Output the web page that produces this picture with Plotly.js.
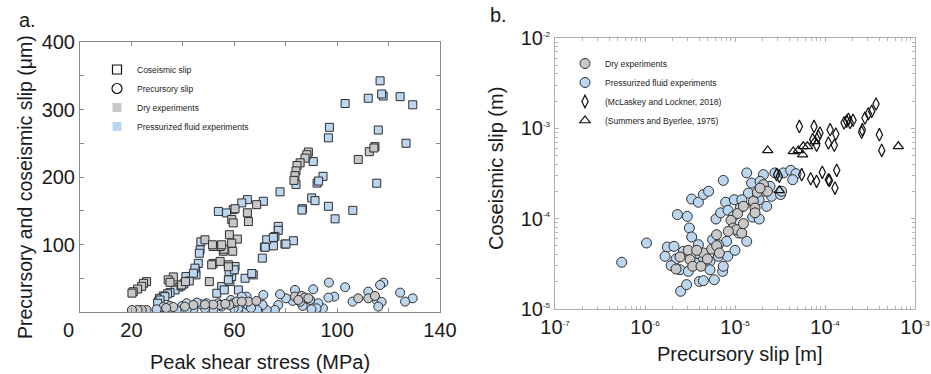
<!DOCTYPE html>
<html><head><meta charset="utf-8">
<script src="https://cdn.plot.ly/plotly-3.0.1.min.js"></script>
<style>html,body{margin:0;padding:0;background:#fff}#chart{width:931px;height:374px}</style>
</head><body><div id="chart"></div>
<script>
// ---------- Panel a: slip vs peak shear stress ----------
const dryCoseismicStress = [88.8,88.2,87.5,85.6,84.4,84.0,83.6,83.2,108.2,112.5,114.7,114.3,60.3,65.1,65.5,68.7,59.0,59.6,58.1,61.2,59.4,57.7,55.7,56.0,54.5,51.8,51.8,51.2,54.5,50.3,48.6,36.3,34.3,35.0,39.5,41.0,25.9,24.7,24.0,22.4,20.7,20.2,59.0,57.7,51.5,55.1];
const dryCoseismicSlip   = [237,233,228,221,217,209,202,195,226,237.5,245,243,153,147,134,159,137,132,114.5,108,90,70,90,93,97,97,72,70,75,45,107,52,47.6,44,40,45,45,42.5,38,34,30,28,102,67,99.6,99.6];

const fluidCoseismicStress = [116.7,103.1,112.1,117.9,117.3,124.5,129.4,97.0,96.6,116.0,126.8,115.4,90.7,94.5,92.2,92.8,84.0,90.1,91.4,86.5,86.3,96.6,99.2,106.1,77.8,71.3,65.1,77.1,77.1,83.0,79.7,75.2,75.8,72.6,71.7,70.9,62.9,59.6,57.0,53.8,47.0,46.7,46.4,46.0,45.0,45.1,41.2,42.5,40.4,38.5,37.0,35.0,34.0,32.4,30.9,30.5,55.1,53.2,58.3,59.0,59.6,60.3,61.6,64.2,67.4,66.8,58.0,75.2,80.1,72.0,44.7,44.1,39.3,33.0,31.1,30.2,56.1,57.7,60.0];
const fluidCoseismicSlip   = [342.5,308.8,316.7,320,323,319,307,273.6,258,269.6,250,190.8,223,201,191,194,189,169,165,153,151,156.6,138,150.6,178,164,166.5,126.9,121,105.6,100.7,98,112,107,96.2,79.8,161.6,151.7,146.8,149,104,92,87,72,61,55,52.5,46,41.6,37,32.7,28.7,27,23.8,20.3,15.4,37.7,27.8,45,52.5,62.5,67.4,32.7,50,55,57,60,110.5,100.7,96,65,57.5,38.7,22.8,17.8,13,32.7,47.6,62.5];

const dryPrecursoryStress = [108.2,112.1,114.7,83.6,86.2,87.5,88.8,84.9,65.5,68.6,59.6,60.9,58.1,54.5,51.8,48.6,44.1,40.8,36.3,25.9,24.0,22.4,20.2,62.9,56.5,33.5];
const dryPrecursorySlip   = [20.3,20.3,23.8,22.8,23.8,21.4,20.3,17.8,15.4,16.4,13,15.4,10.4,10.4,11,11,10.4,8,7.4,3,3,3,3,15.4,12,6];

const fluidPrecursoryStress = [96.8,103.1,118.0,116.7,124.5,129.4,126.4,112.1,115.4,117.3,116.0,106.0,98.9,96.6,94.5,92.7,92.0,90.0,90.7,89.5,86.6,85.6,83.6,82.7,80.1,77.8,77.1,75.8,72.6,71.3,71.0,68.9,64.8,65.3,61.6,59.8,64.8,62.9,58.7,55.1,51.9,48.6,46.7,44.1,41.5,39.7,37.6,35.0,33.7,31.1,32.4,41.5,45.4,49.2,53.8,29.8,66.5];
const fluidPrecursorySlip   = [43.6,36.7,43.6,40,28.7,20.3,15.4,30.2,17.8,15,8,15.4,22.8,21.4,5.5,13,5.5,4,33.7,17.8,9,15,32.7,16.4,20.3,26.3,10.4,3,3,25.3,10.4,3,3,10.4,5.5,5.5,22.8,22.8,17.8,8,4,5.5,12,4,4,9,3,9,3,3,7.4,13,14,13,13,4,6];

// ---------- Panel b: coseismic vs precursory slip (m) ----------
const fluidPre = [5.51e-7,1.04e-6,1.77e-6,1.67e-6,2.29e-6,2.95e-6,3.11e-6,3.30e-6,2.21e-6,2.45e-6,2.49e-6,2.90e-6,3.30e-6,3.92e-6,4.45e-6,5.09e-6,7.41e-6,3.92e-6,4.08e-6,4.02e-6,4.45e-6,5.89e-6,7.29e-6,6.53e-6,8.30e-6,1.0e-5,6.15e-6,6.93e-6,7.87e-6,8.36e-6,9.84e-6,1.35e-5,1.53e-5,1.41e-5,1.57e-5,1.86e-5,1.35e-5,2.07e-5,2.25e-5,2.55e-5,2.78e-5,3.44e-5,4.16e-5,4.76e-5,4.38e-5,3.21e-5,2.07e-5,5.27e-6,2.67e-6,1.95e-6,8.07e-6,5.65e-6,1.10e-5,1.14e-5,9.57e-6,2.45e-5,1.90e-5,2.10e-6,4.45e-6,6.53e-6,1.19e-5,1.60e-5,1.85e-5,3.30e-5,7.41e-6,3.60e-6,3.03e-6,5.27e-6];
const fluidCo  = [3.29e-5,5.38e-5,4.85e-5,3.83e-5,1.11e-4,1.06e-4,7.89e-5,6.27e-5,3.58e-5,2.72e-5,1.57e-5,1.86e-5,1.65e-4,1.52e-4,1.85e-4,2.01e-4,2.65e-4,5.15e-5,3.99e-5,2.02e-5,2.06e-5,2.11e-5,2.61e-5,3.83e-5,3.83e-5,4.46e-5,9.91e-5,1.16e-4,1.52e-4,1.24e-4,1.62e-4,3.21e-4,2.48e-4,1.92e-4,1.04e-4,9.91e-5,5.61e-5,3.07e-4,1.37e-4,1.77e-4,3.21e-4,3.21e-4,3.43e-4,3.15e-4,2.70e-4,1.85e-4,2.01e-4,3.37e-5,4.35e-5,3.02e-5,5.61e-5,5.86e-5,6.93e-5,1.31e-4,1.06e-4,2.28e-4,2.59e-4,4.94e-5,3.52e-5,5.15e-5,1.62e-4,1.49e-4,1.62e-4,2.01e-4,2.97e-5,3.23e-5,2.61e-5,2.72e-5];

const dryPre = [2.21e-6,2.45e-6,3.03e-6,3.16e-6,3.39e-6,4.19e-6,4.45e-6,4.93e-6,5.51e-6,6.25e-6,6.25e-6,6.70e-6,9.03e-6,9.57e-6,1.07e-5,1.04e-5,1.19e-5,1.24e-5,1.24e-5,1.60e-5,1.77e-5,2.07e-5,2.29e-5,1.67e-5,8.43e-6,1.90e-5,3.75e-6,1.67e-5];
const dryCo  = [2.77e-5,3.77e-5,4.46e-5,3.52e-5,2.97e-5,2.97e-5,4.17e-5,3.58e-5,4.61e-5,5.02e-5,6.65e-5,4.17e-5,9.59e-5,7.89e-5,1.14e-4,7.55e-5,6.93e-5,8.81e-5,1.37e-4,1.56e-4,1.96e-4,2.38e-4,2.01e-4,1.31e-4,7.24e-5,2.18e-4,4.46e-5,1.16e-4];

const mclaskeyPre = [5.19e-5,7.55e-5,1.14e-4,1.32e-4,1.63e-4,1.82e-4,1.74e-4,2.05e-4,2.55e-4,2.60e-4,2.78e-4,3.03e-4,3.30e-4,3.69e-4,4.02e-4,4.27e-4,8.43e-5,8.79e-5,8.07e-5,7.30e-5,1.09e-4,1.27e-4,5.51e-5,6.93e-5,8.07e-5,9.33e-5,1.09e-4,1.12e-4,1.29e-4,1.35e-4,3.11e-5,2.90e-5,1.90e-4];
const mclaskeyCo  = [1.05e-3,1.05e-3,9.66e-4,8.65e-4,1.15e-3,1.26e-3,1.20e-3,1.23e-3,9.04e-4,9.66e-4,1.30e-3,1.45e-3,1.54e-3,1.86e-3,8.51e-4,5.70e-4,8.15e-4,8.87e-4,6.49e-4,7.50e-4,6.89e-4,6.49e-4,3.07e-4,2.77e-4,2.59e-4,3.26e-4,2.70e-4,2.65e-4,2.18e-4,3.43e-4,2.94e-4,3.07e-4,1.16e-3];

const summersPre = [2.31e-5,4.45e-5,5.65e-5,5.74e-5,6.37e-5,7.74e-5,6.53e-4,3.11e-5,5.06e-5];
const summersCo  = [5.70e-4,5.56e-4,5.11e-4,6.32e-4,6.32e-4,7.18e-4,6.32e-4,2.06e-4,5.70e-4];

const logTickVals = [1e-7,1e-6,1e-5,1e-4,1e-3];
const logTickText = ['10<sup><span style="font-size:8px">-7</span></sup>','10<sup><span style="font-size:8px">-6</span></sup>','10<sup><span style="font-size:8px">-5</span></sup>','10<sup><span style="font-size:8px">-4</span></sup>','10<sup><span style="font-size:8px">-3</span></sup>'];
const logYTickVals = [1e-5,1e-4,1e-3,1e-2];
const logYTickText = ['10<sup><span style="font-size:8px">-5</span></sup>','10<sup><span style="font-size:8px">-4</span></sup>','10<sup><span style="font-size:8px">-3</span></sup>','10<sup><span style="font-size:8px">-2</span></sup>'];

const GRAY = 'rgb(200,200,200)';
const BLUE = 'rgb(189,214,240)';
const EDGE = 'rgb(45,45,45)';
const FONT = 'Liberation Sans, Arial, sans-serif';
const LEGFONT = 'Liberation Sans Narrow, Liberation Sans, Arial, sans-serif';
const TXT = '#1a1a1a';

const traces = [
  // panel a data
  {x: fluidCoseismicStress, y: fluidCoseismicSlip, xaxis:'x', yaxis:'y', type:'scatter', mode:'markers', showlegend:false,
   marker:{symbol:'square', size:8, color:BLUE, line:{color:EDGE, width:1}}},
  {x: dryCoseismicStress, y: dryCoseismicSlip, xaxis:'x', yaxis:'y', type:'scatter', mode:'markers', showlegend:false,
   marker:{symbol:'square', size:8, color:GRAY, line:{color:EDGE, width:1}}},
  {x: fluidPrecursoryStress, y: fluidPrecursorySlip, xaxis:'x', yaxis:'y', type:'scatter', mode:'markers', showlegend:false,
   marker:{symbol:'circle', size:9, color:BLUE, line:{color:EDGE, width:1}}},
  {x: dryPrecursoryStress, y: dryPrecursorySlip, xaxis:'x', yaxis:'y', type:'scatter', mode:'markers', showlegend:false,
   marker:{symbol:'circle', size:9, color:GRAY, line:{color:EDGE, width:1}}},
  // panel a legend entries
  {x:[null], y:[null], xaxis:'x', yaxis:'y', type:'scatter', mode:'markers', name:'Coseismic slip', legend:'legend',
   marker:{symbol:'square-open', size:9, color:'#111', line:{width:1.2}}},
  {x:[null], y:[null], xaxis:'x', yaxis:'y', type:'scatter', mode:'markers', name:'Precursory slip', legend:'legend',
   marker:{symbol:'circle-open', size:10, color:'#111', line:{width:1.2}}},
  {x:[null], y:[null], xaxis:'x', yaxis:'y', type:'scatter', mode:'markers', name:'Dry experiments', legend:'legend',
   marker:{symbol:'square', size:9, color:GRAY, line:{width:0}}},
  {x:[null], y:[null], xaxis:'x', yaxis:'y', type:'scatter', mode:'markers', name:'Pressurized fluid experiments', legend:'legend',
   marker:{symbol:'square', size:9, color:BLUE, line:{width:0}}},
  // panel b data
  {x: fluidPre, y: fluidCo, xaxis:'x2', yaxis:'y2', type:'scatter', mode:'markers', name:'Pressurized fluid experiments', legend:'legend2', legendrank:2,
   marker:{symbol:'circle', size:10, color:BLUE, line:{color:EDGE, width:1}}},
  {x: dryPre, y: dryCo, xaxis:'x2', yaxis:'y2', type:'scatter', mode:'markers', name:'Dry experiments', legend:'legend2', legendrank:1,
   marker:{symbol:'circle', size:10, color:GRAY, line:{color:EDGE, width:1}}},
  {x: mclaskeyPre, y: mclaskeyCo, xaxis:'x2', yaxis:'y2', type:'scatter', mode:'markers', name:'(McLaskey and Lockner, 2018)', legend:'legend2', legendrank:3,
   marker:{symbol:'diamond-tall-open', size:9, color:'#111', line:{width:1.2}}},
  {x: summersPre, y: summersCo, xaxis:'x2', yaxis:'y2', type:'scatter', mode:'markers', name:'(Summers and Byerlee, 1975)', legend:'legend2', legendrank:4,
   marker:{symbol:'triangle-up-open', size:9, color:'#111', line:{width:1.2}}}
];

const W = 931, H = 374;
const px = v => v / W, py = v => 1 - v / H;

const axisCommon = {
  showgrid:false, zeroline:false, showline:true, linecolor:'#8a8a8a', linewidth:1, mirror:'ticks',
  ticks:'inside', ticklen:4, tickcolor:'#8a8a8a', tickfont:{family:FONT, size:20, color:TXT}
};

const layout = {
  width:W, height:H, margin:{l:0, r:0, t:0, b:0}, paper_bgcolor:'#fff', plot_bgcolor:'#fff',
  font:{family:FONT, color:TXT},
  xaxis: Object.assign({}, axisCommon, {
    domain:[px(80), px(440)], anchor:'y', range:[0,140], tickmode:'array', tickvals:[20,60,100,140],
    minor:{tick0:0, dtick:20, ticks:'inside', ticklen:4, tickcolor:'#8a8a8a', showgrid:false}
  }),
  yaxis: Object.assign({}, axisCommon, {
    domain:[py(312), py(42)], anchor:'x', range:[0,400], tickmode:'array', tickvals:[100,200,300,400],
    minor:{tick0:0, dtick:50, ticks:'inside', ticklen:4, tickcolor:'#8a8a8a', showgrid:false}
  }),
  xaxis2: Object.assign({}, axisCommon, {
    domain:[px(555), px(915)], anchor:'y2', type:'log', range:[-7,-3], tickmode:'array',
    tickvals:logTickVals, ticktext:logTickText, linecolor:'#b0b0b0', tickcolor:'#b0b0b0',
    minor:{dtick:'D1', ticks:'inside', ticklen:3, tickcolor:'#b8b8b8', showgrid:false}
  }),
  yaxis2: Object.assign({}, axisCommon, {
    domain:[py(309), py(38)], anchor:'x2', type:'log', range:[-5,-2], tickmode:'array',
    tickvals:logYTickVals, ticktext:logYTickText, linecolor:'#b0b0b0', tickcolor:'#b0b0b0',
    minor:{dtick:'D1', ticks:'inside', ticklen:3, tickcolor:'#b8b8b8', showgrid:false}
  }),
  legend:{x:px(97), y:py(55), xanchor:'left', yanchor:'top', bgcolor:'rgba(0,0,0,0)',
    font:{family:LEGFONT, size:8.5, color:'#222'}, traceorder:'normal'},
  legend2:{x:px(565), y:py(49), xanchor:'left', yanchor:'top', bgcolor:'rgba(0,0,0,0)',
    font:{family:LEGFONT, size:8.5, color:'#222'}, traceorder:'normal'},
  annotations:[
    {text:'a.', xref:'paper', yref:'paper', x:px(17), y:py(20), xanchor:'left', yanchor:'middle', showarrow:false,
     font:{family:FONT, size:20, color:TXT}},
    {text:'b.', xref:'paper', yref:'paper', x:px(488), y:py(15), xanchor:'left', yanchor:'middle', showarrow:false,
     font:{family:FONT, size:20, color:TXT}},
    {text:'0', xref:'paper', yref:'paper', x:px(68), y:py(330), xanchor:'center', yanchor:'middle', showarrow:false,
     font:{family:FONT, size:20, color:TXT}},
    {text:'Peak shear stress (MPa)', xref:'paper', yref:'paper', x:px(260), y:py(362), xanchor:'center', yanchor:'middle', showarrow:false,
     font:{family:FONT, size:20, color:TXT}},
    {text:'Precursory and coseismic slip (μm)', xref:'paper', yref:'paper', x:px(25), y:py(187), xanchor:'center', yanchor:'middle', showarrow:false,
     textangle:-90, font:{family:FONT, size:19.5, color:TXT}},
    {text:'Precursory slip [m]', xref:'paper', yref:'paper', x:px(740), y:py(354), xanchor:'center', yanchor:'middle', showarrow:false,
     font:{family:FONT, size:20, color:TXT}},
    {text:'Coseismic slip (m)', xref:'paper', yref:'paper', x:px(496), y:py(168), xanchor:'center', yanchor:'middle', showarrow:false,
     textangle:-90, font:{family:FONT, size:20, color:TXT}}
  ]
};

Plotly.newPlot('chart', traces, layout, {displayModeBar:false, staticPlot:true});
</script></body></html>
